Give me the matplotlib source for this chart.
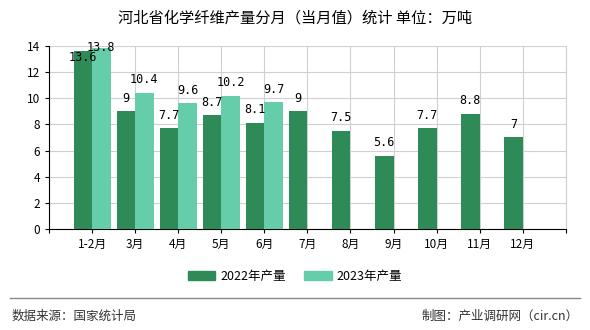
import numpy as np
import matplotlib
matplotlib.use('Agg')
import matplotlib.pyplot as plt
from matplotlib.patches import Patch
from matplotlib.lines import Line2D

plt.rcParams['font.family'] = ['Noto Sans CJK SC', 'DejaVu Sans']

months = ['1-2月', '3月', '4月', '5月', '6月', '7月', '8月', '9月', '10月', '11月', '12月']
prod_2022 = [13.6, 9, 7.7, 8.7, 8.1, 9, 7.5, 5.6, 7.7, 8.8, 7]
prod_2023 = [13.8, 10.4, 9.6, 10.2, 9.7]

c2022 = '#2e8b57'
c2023 = '#66cdaa'

fig = plt.figure(figsize=(5.9, 3.3), dpi=100)
ax = fig.add_axes([0.083, 0.306, 0.876, 0.555])

x = np.arange(1, len(months) + 1)
w = 0.43
ax.bar(x[:len(prod_2022)] - w / 2, prod_2022, w, color=c2022, zorder=3)
ax.bar(x[:len(prod_2023)] + w / 2, prod_2023, w, color=c2023, zorder=3)

# value labels, pushed inside the plot when they would run off the top
mono = ['DejaVu Sans Mono', 'Noto Sans CJK SC']
for xi, v in zip(x, prod_2022):
    ax.text(xi - w / 2, min(v + 1.0, 13.1), f'{v:g}', ha='center', va='center',
            fontsize=8.5, family=mono, zorder=4)
for xi, v in zip(x, prod_2023):
    ax.text(xi + w / 2, min(v + 1.0, 13.9), f'{v:g}', ha='center', va='center',
            fontsize=8.5, family=mono, zorder=4)

ax.set_xlim(0, 12)
ax.set_ylim(0, 14)
ax.set_yticks(range(0, 15, 2))
ax.set_xticks(range(0, 13))
ax.set_xticklabels([''] + months + [''], fontsize=8.5)
ax.tick_params(axis='y', labelsize=8.5, length=3)
ax.tick_params(axis='x', length=3)
ax.grid(color='#d0d0d0', linewidth=0.8, zorder=0)
ax.spines['top'].set_visible(False)
ax.spines['right'].set_color('#d0d0d0')
ax.spines['left'].set_linewidth(0.8)
ax.spines['bottom'].set_linewidth(0.8)

fig.text(0.5, 0.945, '河北省化学纤维产量分月（当月值）统计 单位：万吨',
         ha='center', va='center', fontsize=11)

handles = [Patch(color=c2022, label='2022年产量'), Patch(color=c2023, label='2023年产量')]
fig.legend(handles=handles, loc='center', bbox_to_anchor=(0.5, 0.163), ncol=2,
           frameon=False, fontsize=9, handlelength=2.2, handleheight=0.8,
           columnspacing=1.5, handletextpad=0.4)

fig.add_artist(Line2D([0.017, 0.983], [0.097, 0.097], color='#888888', linewidth=1))
fig.text(0.02, 0.042, '数据来源：国家统计局', ha='left', va='center', fontsize=9, color='#333333')
fig.text(0.98, 0.042, '制图：产业调研网（cir.cn）', ha='right', va='center', fontsize=9, color='#333333')

fig.savefig('out.png', dpi=100)
